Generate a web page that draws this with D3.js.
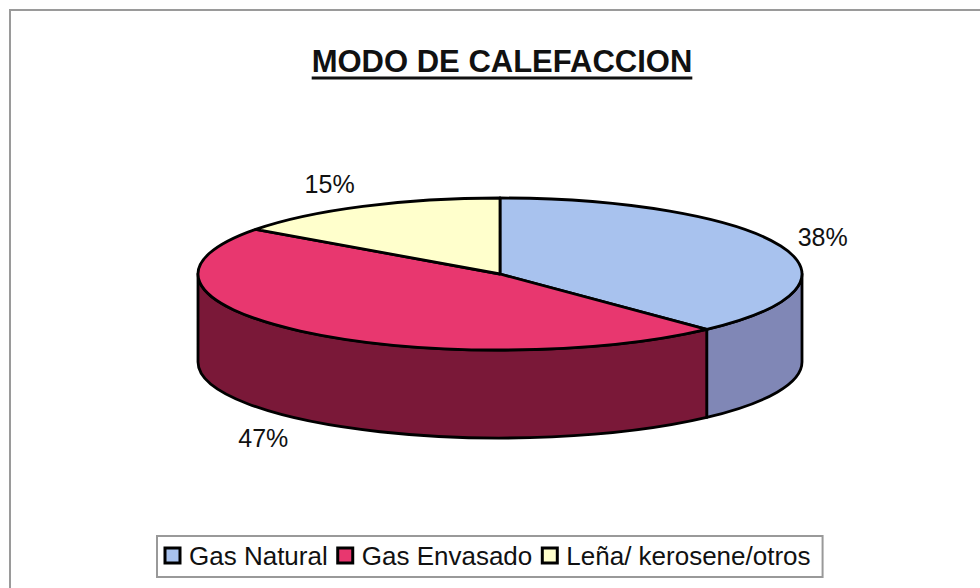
<!DOCTYPE html>
<html>
<head>
<meta charset="utf-8">
<script src="https://cdn.jsdelivr.net/npm/d3@7"></script>
<style>
  body { margin: 0; background: #fff; }
  text { font-family: "Liberation Sans", Arial, sans-serif; fill: #111; }
</style>
</head>
<body>
<svg id="chart"></svg>
<script>
// heating mode shares (percent)
const categories = ["Gas Natural", "Gas Envasado", "Leña/ kerosene/otros"];
const shares = [38, 47, 15];
const labels = ["38%", "47%", "15%"];
const topColors = ["#a8c2ee", "#e8376f", "#ffffcc"];
const sideColors = ["#8087b6", "#7a1838", "#d8d8a8"];

const width = 980, height = 588;
const svg = d3.select("#chart").attr("width", width).attr("height", height);

// outer frame (right/bottom run off the page like in the scan)
svg.append("rect")
  .attr("x", 10).attr("y", 10)
  .attr("width", 1000).attr("height", 600)
  .attr("fill", "none").attr("stroke", "#9a9a9a").attr("stroke-width", 2);

// title + thick underline
const title = svg.append("text")
  .attr("x", 502).attr("y", 72)
  .attr("text-anchor", "middle")
  .style("font-size", "31px").style("font-weight", "bold")
  .text("MODO DE CALEFACCION");
const tw = title.node().getComputedTextLength();
svg.append("line")
  .attr("x1", 502 - tw / 2).attr("x2", 502 + tw / 2)
  .attr("y1", 78).attr("y2", 78)
  .attr("stroke", "#111").attr("stroke-width", 3);

// pie geometry: ellipse top face + extruded side
const cx = 500, cy = 274, rx = 302, ry = 76, depth = 88;
const pt = (a, dy = 0) => [cx + rx * Math.sin(a), cy - ry * Math.cos(a) + dy];

const pie = d3.pie().sort(null).value(d => d)(shares);

function topPath(d) {
  const p0 = pt(d.startAngle), p1 = pt(d.endAngle);
  const large = d.endAngle - d.startAngle > Math.PI ? 1 : 0;
  return `M${cx},${cy}L${p0}A${rx},${ry} 0 ${large} 1 ${p1}Z`;
}

function sidePath(d) {
  const a0 = Math.max(d.startAngle, Math.PI / 2);
  const a1 = Math.min(d.endAngle, 3 * Math.PI / 2);
  if (a1 <= a0) return null;
  const t0 = pt(a0), t1 = pt(a1), b1 = pt(a1, depth), b0 = pt(a0, depth);
  return `M${t0}A${rx},${ry} 0 0 1 ${t1}L${b1}A${rx},${ry} 0 0 0 ${b0}Z`;
}

const g = svg.append("g");

g.selectAll("path.side")
  .data(pie.filter(d => sidePath(d)))
  .enter().append("path")
  .attr("class", "side")
  .attr("d", sidePath)
  .attr("fill", d => sideColors[d.index])
  .attr("stroke", "#000").attr("stroke-width", 2.8)
  .attr("stroke-linejoin", "round");

g.selectAll("path.top")
  .data(pie)
  .enter().append("path")
  .attr("class", "top")
  .attr("d", topPath)
  .attr("fill", d => topColors[d.index])
  .attr("stroke", "#000").attr("stroke-width", 2.8)
  .attr("stroke-linejoin", "round");

// percent labels outside the pie
g.selectAll("text.lbl")
  .data(pie)
  .enter().append("text")
  .attr("class", "lbl")
  .each(function(d) {
    const m = (d.startAngle + d.endAngle) / 2;
    const s = Math.sin(m), c = Math.cos(m);
    d3.select(this)
      .attr("x", cx + rx * 1.06 * s)
      .attr("y", cy - ry * 1.33 * c + (c < 0 ? depth : 0))
      .attr("dy", "0.35em")
      .attr("text-anchor", s >= 0 ? "start" : "end");
  })
  .style("font-size", "25px")
  .text(d => labels[d.index]);

// legend
const legend = svg.append("g");
const legendBox = legend.append("rect");
let lx = 165;
const ly = 556;
categories.forEach((name, i) => {
  legend.append("rect")
    .attr("x", lx).attr("y", ly - 8)
    .attr("width", 15).attr("height", 15)
    .attr("fill", topColors[i])
    .attr("stroke", "#000").attr("stroke-width", 3);
  const t = legend.append("text")
    .attr("x", lx + 24).attr("y", ly)
    .attr("dy", "0.35em")
    .style("font-size", "26px")
    .text(name);
  lx += 24 + t.node().getComputedTextLength() + 10;
});
legendBox
  .attr("x", 157).attr("y", 536)
  .attr("width", lx - 157 + 2).attr("height", 41)
  .attr("fill", "none").attr("stroke", "#999").attr("stroke-width", 2);
</script>
</body>
</html>
